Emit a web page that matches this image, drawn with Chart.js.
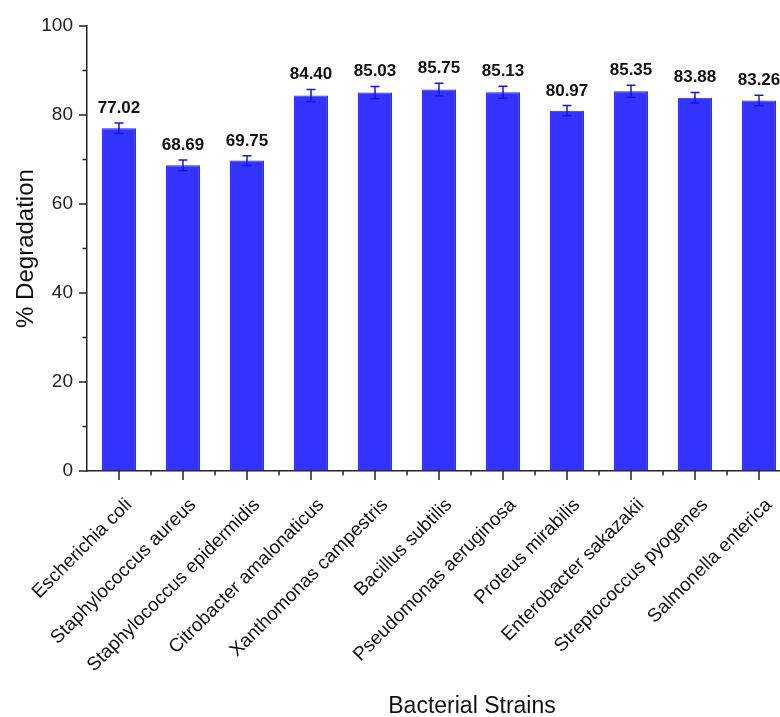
<!DOCTYPE html>
<html>
<head>
<meta charset="utf-8">
<title>% Degradation by bacterial strain</title>
<script src="https://cdn.jsdelivr.net/npm/chart.js@4.4.0/dist/chart.umd.min.js"></script>
<style>
    html, body { margin: 0; padding: 0; background: #fff; overflow: hidden; }
    #wrap { width: 800px; height: 717px; }
</style>
</head>
<body>
<div id="wrap"><canvas id="degradationChart" width="800" height="717"></canvas></div>
<script>
// strains tested
const strains = [
    'Escherichia coli',
    'Staphylococcus aureus',
    'Staphylococcus epidermidis',
    'Citrobacter amalonaticus',
    'Xanthomonas campestris',
    'Bacillus subtilis',
    'Pseudomonas aeruginosa',
    'Proteus mirabilis',
    'Enterobacter sakazakii',
    'Streptococcus pyogenes',
    'Salmonella enterica'
];

// mean % degradation and its error
const degradation = [77.02, 68.69, 69.75, 84.40, 85.03, 85.75, 85.13, 80.97, 85.35, 83.88, 83.26];
const errors = [1.2, 1.2, 1.1, 1.35, 1.4, 1.4, 1.35, 1.15, 1.35, 1.2, 1.2];

const yTicks = [0, 20, 40, 60, 80, 100];
const yMinorTicks = [10, 30, 50, 70, 90];

const FONT = '"Liberation Sans", Arial, sans-serif';
const AXIS_COLOR = '#222';

// error bars, value labels, tick marks and the x title
const decorPlugin = {
    id: 'decor',
    afterDatasetsDraw(chart) {
        const ctx = chart.ctx;
        const x = chart.scales.x;
        const y = chart.scales.y;
        const area = chart.chartArea;

        ctx.save();

        // error bars
        ctx.strokeStyle = '#1515e8';
        ctx.lineWidth = 1.5;
        degradation.forEach((v, i) => {
            const px = x.getPixelForValue(i);
            const top = y.getPixelForValue(v + errors[i]);
            const bot = y.getPixelForValue(v - errors[i]);
            ctx.beginPath();
            ctx.moveTo(px, top); ctx.lineTo(px, bot);
            ctx.moveTo(px - 4.5, top); ctx.lineTo(px + 4.5, top);
            ctx.moveTo(px - 4.5, bot); ctx.lineTo(px + 4.5, bot);
            ctx.stroke();
        });

        // value labels above the error bars
        ctx.fillStyle = '#111';
        ctx.font = 'bold 17px ' + FONT;
        ctx.textAlign = 'center';
        ctx.textBaseline = 'alphabetic';
        degradation.forEach((v, i) => {
            const px = x.getPixelForValue(i);
            const top = y.getPixelForValue(v + errors[i]);
            ctx.fillText(v.toFixed(2), px, top - 10);
        });

        // tick marks, outward
        ctx.strokeStyle = AXIS_COLOR;
        ctx.lineWidth = 1.5;
        ctx.beginPath();
        yTicks.forEach(t => {
            const py = y.getPixelForValue(t);
            ctx.moveTo(area.left, py); ctx.lineTo(area.left - 8, py);
        });
        yMinorTicks.forEach(t => {
            const py = y.getPixelForValue(t);
            ctx.moveTo(area.left, py); ctx.lineTo(area.left - 4.5, py);
        });
        strains.forEach((s, i) => {
            const px = x.getPixelForValue(i);
            ctx.moveTo(px, area.bottom); ctx.lineTo(px, area.bottom + 9);
            if (i < strains.length - 1) {
                const mid = (px + x.getPixelForValue(i + 1)) / 2;
                ctx.moveTo(mid, area.bottom); ctx.lineTo(mid, area.bottom + 4.5);
            }
        });
        ctx.stroke();

        // x axis title
        ctx.fillStyle = '#111';
        ctx.font = '23px ' + FONT;
        ctx.textAlign = 'center';
        ctx.textBaseline = 'alphabetic';
        ctx.fillText('Bacterial Strains', (area.left + area.right) / 2 + 33, 713);

        ctx.restore();
    }
};

const ctxDeg = document.getElementById('degradationChart').getContext('2d');
const degradationChart = new Chart(ctxDeg, {
    type: 'bar',
    data: {
        labels: strains,
        datasets: [{
            label: '% Degradation',
            data: degradation,
            backgroundColor: '#3333ff',
            borderColor: '#1f1fff',
            borderWidth: 1,
            categoryPercentage: 1,
            barPercentage: 0.53
        }]
    },
    options: {
        responsive: false,
        animation: false,
        layout: { padding: { top: 26, right: 9, left: 0, bottom: 0 } },
        plugins: {
            legend: { display: false },
            tooltip: { enabled: false }
        },
        scales: {
            x: {
                offset: true,
                grid: { display: false, drawTicks: true, tickLength: 9 },
                border: { color: AXIS_COLOR, width: 1.5 },
                ticks: {
                    autoSkip: false,
                    minRotation: 45,
                    maxRotation: 45,
                    padding: 14,
                    labelOffset: 10,
                    color: '#111',
                    font: { family: FONT, size: 19 }
                },
                afterFit(scale) { scale.height = 246; }
            },
            y: {
                min: 0,
                max: 100,
                afterBuildTicks(scale) {
                    scale.ticks = yTicks.map(v => ({ value: v }));
                },
                grid: { drawOnChartArea: false, color: 'rgba(0,0,0,0)', tickLength: 8 },
                border: { color: AXIS_COLOR, width: 1.5 },
                ticks: {
                    padding: 6,
                    color: '#222',
                    font: { family: FONT, size: 19 }
                },
                title: {
                    display: true,
                    text: '% Degradation',
                    color: '#111',
                    font: { family: FONT, size: 24 },
                    padding: { top: 12, bottom: 0 }
                },
                afterFit(scale) { scale.width = 87; }
            }
        }
    },
    plugins: [decorPlugin]
});
</script>
</body>
</html>
